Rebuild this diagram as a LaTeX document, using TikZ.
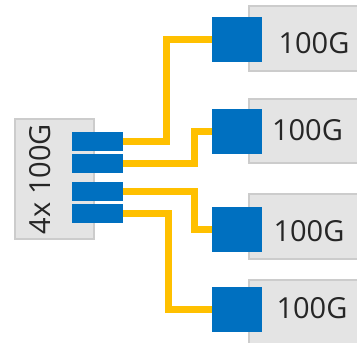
\documentclass[tikz,border=0pt]{standalone}
\usepackage{fontspec}
\setmainfont{Open Sans}
\definecolor{portblue}{HTML}{0070C0}
\definecolor{cableyellow}{HTML}{FFC000}
\definecolor{cardfill}{HTML}{E4E4E4}
\definecolor{cardline}{HTML}{CCCCCC}
\begin{document}
\begin{tikzpicture}[x=1pt,y=-1pt,font=\fontsize{29}{30}\selectfont,line join=miter,
	card/.style={draw=cardline,fill=cardfill,line width=1.2pt,inner sep=0pt},
	port/.style={fill=portblue,inner sep=0pt,minimum width=51pt,minimum height=19pt},
	plug/.style={fill=portblue,inner sep=0pt,minimum width=50pt,minimum height=45pt},
	cable/.style={draw=cableyellow,line width=7pt}]
			\useasboundingbox (0,0) rectangle (357,343);
			\clip (0,0) rectangle (357,343);
			% breakout side
			\node[card,minimum width=79pt,minimum height=120pt] (hub) at (54.5,179) {};
			\node[rotate=90,text=black!85] (hubtext) at (40,179) {4x 100G};
			% receiving side
			\foreach \y/\h/\n in {38.5/65/1,131/64/2,226.5/65/3,312.5/65/4}{\node[card,minimum width=150pt,minimum height=\h pt] (card\n) at (324,\y) {};}
			\foreach \x/\y/\n in {314/43/1,307.5/130/2,309/231/3,312/308/4}{\node[text=black!85] (label\n) at (\x,\y) {100G};}
			\foreach \y/\n in {141.5/1,163/2,191/3,213/4}{\node[port] (p\n) at (97.5,\y) {};}
			\foreach \y/\n in {39.5/1,131/2,229.5/3,309/4}{\node[plug] (sq\n) at (237,\y) {};}
			\draw[cable] (p1.east) -- +(43,0) |- (sq1.west);
			\draw[cable] (p2.east) -- +(71,0) |- (sq2.west);
			\draw[cable] (p3.east) -- +(71,0) |- (sq3.west);
			\draw[cable] (p4.east) -- +(45,0) |- (sq4.west);
		\end{tikzpicture}
\end{document}
